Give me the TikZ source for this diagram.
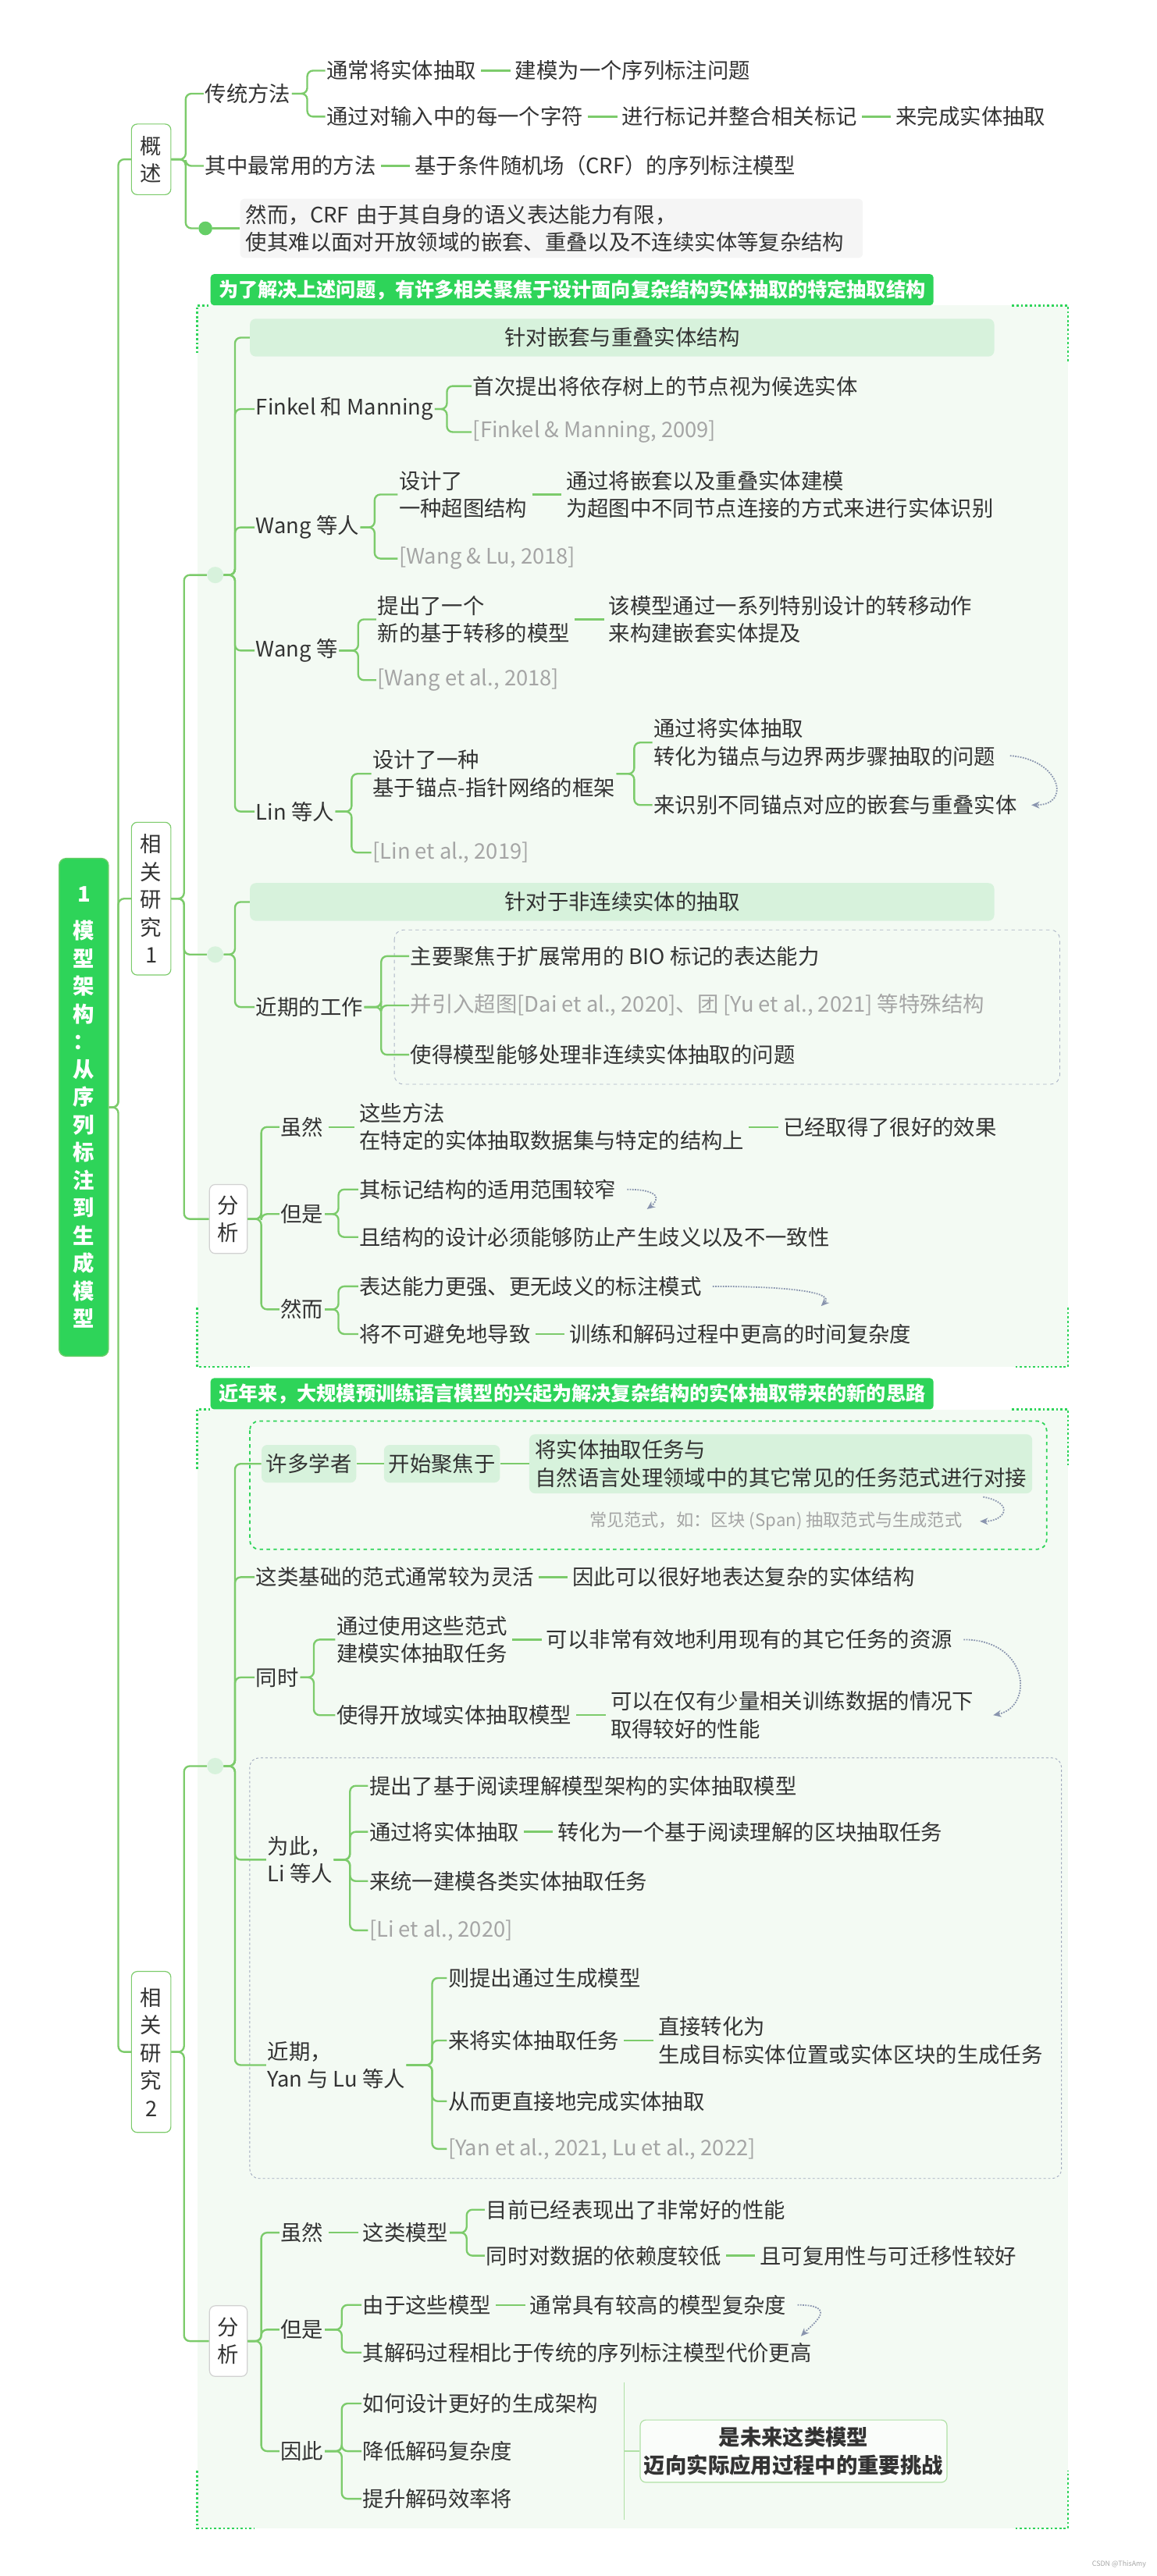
\documentclass[tikz,border=0pt]{standalone}
\usepackage{fontspec}
\setmainfont{Noto Sans CJK SC}
\usetikzlibrary{positioning,calc,arrows.meta}
\definecolor{lg}{HTML}{7CCB6B}
\definecolor{hg}{HTML}{2ED459}
\definecolor{bgc}{HTML}{F3FAF3}
\definecolor{hdc}{HTML}{D7F2DC}
\definecolor{txc}{HTML}{333333}
\definecolor{grc}{HTML}{A5A5A5}
\definecolor{arc}{HTML}{8994AE}
\newcommand\fs{\fontsize{18.5}{24}\selectfont}
\newcommand\br[3]{\draw[conn] (#1.east) -- (#1.east -| #3,0) |- (#2.west);}
\newcommand\ch[3]{\node[tx,right=1.1cm of #1] (#2) {#3}; \draw[lk] (#1.east) -- (#2.west);}
\begin{document}
\begin{tikzpicture}[x=0.05cm,y=-0.05cm,
 tx/.style={anchor=west,inner sep=1pt,text=txc,align=left,font=\fs},
 gx/.style={tx,text=grc},
 conn/.style={draw=lg,line width=1.6pt,rounded corners=5pt},
 lk/.style={draw=lg,line width=1.6pt,shorten <=3pt,shorten >=3pt},
 dotg/.style={draw=hg,line width=1.8pt,dotted},
 darr/.style={draw=arc,line width=1.2pt,densely dotted,-{Stealth[length=7pt,width=6pt]}},
 lv/.style={draw=lg,fill=white,rounded corners=5pt,line width=0.8pt,inner sep=2pt,align=center,text=txc,font=\fs,minimum width=1.2cm},
 hdr/.style={fill=hdc,rounded corners=5pt,text=txc,font=\fs,minimum height=1.15cm,minimum width=22.65cm,anchor=west},
 hd/.style={fill=hg,rounded corners=3pt,text=white,font=\fontsize{17}{20}\selectfont\bfseries,minimum width=22cm,minimum height=0.95cm,anchor=south west},
 ldot/.style={circle,fill=hdc,inner sep=0pt,minimum size=0.5cm},
]
\useasboundingbox (0,0) rectangle (704,1568);
% backgrounds
\fill[bgc] (120,186) rectangle (650,832);
\fill[bgc] (120,858) rectangle (650,1539);
\draw[dotg] (120,215) -- (120,186) -- (128,186);
\draw[dotg] (616,186) -- (650,186) -- (650,221);
\draw[dotg] (120,796) -- (120,832) -- (153,832);
\draw[dotg] (618,832) -- (650,832) -- (650,796);
\draw[dotg] (120,894) -- (120,858) -- (128,858);
\draw[dotg] (616,858) -- (650,858) -- (650,892);
\draw[dotg] (120,1504) -- (120,1539) -- (155,1539);
\draw[dotg] (618,1539) -- (650,1539) -- (650,1504);
\node[hd] (h1) at (128,186) {为了解决上述问题，有许多相关聚焦于设计面向复杂结构实体抽取的特定抽取结构};
\node[hd] (h2) at (128,858) {近年来，大规模预训练语言模型的兴起为解决复杂结构的实体抽取带来的新的思路};
\draw[draw=arc!70,dashed,rounded corners=8pt,line width=0.6pt] (240,566) rectangle (645,660);
\draw[draw=hg,dashed,rounded corners=8pt,line width=1.2pt] (152,865) rectangle (637,943);
\draw[draw=arc!80,dash pattern=on 2pt off 2pt,rounded corners=8pt,line width=0.6pt] (152,1070) rectangle (646,1326);

% root
\node[fill=hg,draw=lg!70!hg,line width=1pt,rounded corners=6pt,minimum width=1.5cm,minimum height=15.15cm,text=white,font=\fontsize{18.5}{24}\selectfont\bfseries,align=center] (root) at (51,674) {1\\[8pt]模\\型\\架\\构\\：\\从\\序\\列\\标\\注\\到\\生\\成\\模\\型};
\node[lv,minimum height=2.15cm] (gs) at (92,97) {概\\述};
\node[lv,minimum height=4.65cm] (xg1) at (92,547) {相\\关\\研\\究\\1};
\node[lv,minimum height=4.9cm] (xg2) at (92,1249) {相\\关\\研\\究\\2};
\draw[conn] (root.east) -- (root.east -| 72,0) |- (gs.west);
\draw[conn] (root.east) -- (root.east -| 72,0) |- (xg1.west);
\draw[conn] (root.east) -- (root.east -| 72,0) |- (xg2.west);

% overview
\node[tx] (ctf) at (124,57) {传统方法};
\node[tx] (t1) at (198,43) {通常将实体抽取};
\ch{t1}{t1b}{建模为一个序列标注问题}
\node[tx] (t2) at (198,71) {通过对输入中的每一个字符};
\ch{t2}{t2b}{进行标记并整合相关标记}
\ch{t2b}{t2c}{来完成实体抽取}
\br{ctf}{t1}{187} \br{ctf}{t2}{187}
\node[tx] (cy) at (124,101) {其中最常用的方法};
\ch{cy}{crf}{基于条件随机场（CRF）的序列标注模型}
\node[circle,fill=lg!70!hg,minimum size=0.42cm,inner sep=0pt] (od) at (125,139) {};
\node[fill=black!4,rounded corners=4pt,anchor=west,text=txc,font=\fs,align=left,inner sep=5pt,text width=18.6cm] (gb) at (146,139) {然而，CRF 由于其自身的语义表达能力有限，\\使其难以面对开放领域的嵌套、重叠以及不连续实体等复杂结构};
\br{gs}{ctf}{113} \br{gs}{cy}{113} \br{gs}{od}{113}
\draw[conn] (od.east) -- (gb.west);

% section 1
\node[ldot] (dot1) at (131,350) {};
\node[ldot] (dot2) at (131,581) {};
\node[lv,draw=black!18,minimum width=1.15cm,minimum height=2.1cm] (an1) at (139,742) {分\\析};
\br{xg1}{dot1}{112} \br{xg1}{dot2}{112} \br{xg1}{an1}{112}

\node[hdr] (hd1) at (152,205.5) {针对嵌套与重叠实体结构};
\node[tx] (fm) at (155,249) {Finkel 和 Manning};
\node[tx] (fm1) at (287,235) {首次提出将依存树上的节点视为候选实体};
\node[gx] (fm2) at (287,263) {[Finkel \& Manning, 2009]};
\br{fm}{fm1}{272} \br{fm}{fm2}{272}
\node[tx] (wr) at (155,321) {Wang 等人};
\node[tx] (wr1) at (242,301) {设计了\\一种超图结构};
\ch{wr1}{wr1b}{通过将嵌套以及重叠实体建模\\为超图中不同节点连接的方式来进行实体识别}
\node[gx] (wr2) at (242,340) {[Wang \& Lu, 2018]};
\br{wr}{wr1}{228} \br{wr}{wr2}{228}
\node[tx] (wd) at (155,396) {Wang 等};
\node[tx] (wd1) at (229,377) {提出了一个\\新的基于转移的模型};
\ch{wd1}{wd1b}{该模型通过一系列特别设计的转移动作\\来构建嵌套实体提及}
\node[gx] (wd2) at (229,414) {[Wang et al., 2018]};
\br{wd}{wd1}{218} \br{wd}{wd2}{218}
\node[tx] (ln) at (155,494) {Lin 等人};
\node[tx] (ln1) at (226,471) {设计了一种\\基于锚点-指针网络的框架};
\node[gx] (ln2) at (226,519) {[Lin et al., 2019]};
\br{ln}{ln1}{214} \br{ln}{ln2}{214}
\node[tx] (ln1a) at (397,452) {通过将实体抽取\\转化为锚点与边界两步骤抽取的问题};
\node[tx] (ln1b) at (397,490) {来识别不同锚点对应的嵌套与重叠实体};
\br{ln1}{ln1a}{386} \br{ln1}{ln1b}{386}
\draw[darr] ([shift={(8,8)}]ln1a.east) .. controls +(30,2) and +(25,0) .. ([shift={(8,0)}]ln1b.east);
\br{dot1}{hd1}{143} \br{dot1}{fm}{143} \br{dot1}{wr}{143} \br{dot1}{wd}{143} \br{dot1}{ln}{143}

\node[hdr] (hd2) at (152,549) {针对于非连续实体的抽取};
\node[tx] (jq) at (155,613) {近期的工作};
\node[tx] (jq1) at (249,582) {主要聚焦于扩展常用的 BIO 标记的表达能力};
\node[gx] (jq2) at (249,612) {并引入超图[Dai et al., 2020]、团 [Yu et al., 2021] 等特殊结构};
\node[tx] (jq3) at (249,642) {使得模型能够处理非连续实体抽取的问题};
\br{jq}{jq1}{232} \br{jq}{jq2}{232} \br{jq}{jq3}{232}
\br{dot2}{hd2}{143} \br{dot2}{jq}{143}

\node[tx] (sr) at (170,686) {虽然};
\node[tx] (sr1) at (218,686) {这些方法\\在特定的实体抽取数据集与特定的结构上};
\ch{sr1}{sr2}{已经取得了很好的效果}
\draw[lk] (sr.east) -- (sr1.west);
\node[tx] (ds) at (170,739) {但是};
\node[tx] (ds1) at (218,724) {其标记结构的适用范围较窄};
\node[tx] (ds2) at (218,753) {且结构的设计必须能够防止产生歧义以及不一致性};
\br{ds}{ds1}{206} \br{ds}{ds2}{206}
\draw[darr] ([shift={(6,0)}]ds1.east) .. controls +(20,0) and +(8,-6) .. ([shift={(18,12)}]ds1.east);
\node[tx] (rr) at (170,797) {然而};
\node[tx] (rr1) at (218,783) {表达能力更强、更无歧义的标注模式};
\node[tx] (rr2) at (218,812) {将不可避免地导致};
\ch{rr2}{rr2b}{训练和解码过程中更高的时间复杂度}
\br{rr}{rr1}{206} \br{rr}{rr2}{206}
\draw[darr] ([shift={(6,0)}]rr1.east) .. controls +(50,0) and +(8,-8) .. ([shift={(72,12)}]rr1.east);
\br{an1}{sr}{159} \br{an1}{ds}{159} \br{an1}{rr}{159}

% section 2
\node[ldot] (dot3) at (131,1075) {};
\node[lv,draw=black!18,minimum width=1.15cm,minimum height=2.15cm] (an2) at (139,1425) {分\\析};
\br{xg2}{dot3}{112} \br{xg2}{an2}{112}

\node[fill=hdc,rounded corners=5pt,text=txc,font=\fs,minimum height=1.15cm,inner sep=4pt] (xz) at (188,891) {许多学者};
\node[fill=hdc,rounded corners=5pt,text=txc,font=\fs,minimum height=1.15cm,inner sep=4pt] (kj) at (269,891) {开始聚焦于};
\node[fill=hdc,rounded corners=5pt,text=txc,font=\fs,anchor=west,align=left,inner sep=5pt] (jr) at (322,891) {将实体抽取任务与\\自然语言处理领域中的其它常见的任务范式进行对接};
\draw[lk,shorten <=0pt,shorten >=0pt] (xz.east) -- (kj.west);
\draw[lk,shorten <=0pt,shorten >=0pt] (kj.east) -- (jr.west);
\node[gx,font=\fontsize{15}{18}\selectfont] (cf) at (358,926) {常见范式，如：区块 (Span) 抽取范式与生成范式};
\draw[darr] ([shift={(-30,2)}]jr.south east) .. controls +(20,4) and +(15,0) .. ([shift={(10,0)}]cf.east);

\node[tx] (zl) at (155,960) {这类基础的范式通常较为灵活};
\ch{zl}{zlb}{因此可以很好地表达复杂的实体结构}
\node[tx] (ts) at (155,1021) {同时};
\node[tx] (ts1) at (204,998) {通过使用这些范式\\建模实体抽取任务};
\ch{ts1}{ts1b}{可以非常有效地利用现有的其它任务的资源}
\node[tx] (ts2) at (204,1044) {使得开放域实体抽取模型};
\ch{ts2}{ts2b}{可以在仅有少量相关训练数据的情况下\\取得较好的性能}
\br{ts}{ts1}{191} \br{ts}{ts2}{191}
\draw[darr] ([shift={(6,0)}]ts1b.east) .. controls +(40,0) and +(25,-5) .. ([shift={(11,0)}]ts2b.east);

\node[tx] (wc) at (162,1132) {为此，\\Li 等人};
\node[tx] (wc1) at (224,1087) {提出了基于阅读理解模型架构的实体抽取模型};
\node[tx] (wc2) at (224,1115) {通过将实体抽取};
\ch{wc2}{wc2b}{转化为一个基于阅读理解的区块抽取任务}
\node[tx] (wc3) at (224,1145) {来统一建模各类实体抽取任务};
\node[gx] (wc4) at (224,1175) {[Li et al., 2020]};
\br{wc}{wc1}{213} \br{wc}{wc2}{213} \br{wc}{wc3}{213} \br{wc}{wc4}{213}

\node[tx] (yl) at (162,1257) {近期，\\Yan 与 Lu 等人};
\node[tx] (yl1) at (272,1204) {则提出通过生成模型};
\node[tx] (yl2) at (272,1242) {来将实体抽取任务};
\ch{yl2}{yl2b}{直接转化为\\生成目标实体位置或实体区块的生成任务}
\node[tx] (yl3) at (272,1279) {从而更直接地完成实体抽取};
\node[gx] (yl4) at (272,1308) {[Yan et al., 2021, Lu et al., 2022]};
\br{yl}{yl1}{263} \br{yl}{yl2}{263} \br{yl}{yl3}{263} \br{yl}{yl4}{263}
\br{dot3}{xz}{143} \br{dot3}{zl}{143} \br{dot3}{ts}{143} \br{dot3}{wc}{143} \br{dot3}{yl}{143}

\node[tx] (s2) at (170,1359) {虽然};
\node[tx] (s2a) at (220,1359) {这类模型};
\draw[lk] (s2.east) -- (s2a.west);
\node[tx] (s2b) at (295,1345) {目前已经表现出了非常好的性能};
\node[tx] (s2c) at (295,1373) {同时对数据的依赖度较低};
\ch{s2c}{s2d}{且可复用性与可迁移性较好}
\br{s2a}{s2b}{284} \br{s2a}{s2c}{284}
\node[tx] (d2) at (170,1418) {但是};
\node[tx] (d2a) at (220,1403) {由于这些模型};
\ch{d2a}{d2b}{通常具有较高的模型复杂度}
\node[tx] (d2c) at (220,1432) {其解码过程相比于传统的序列标注模型代价更高};
\br{d2}{d2a}{208} \br{d2}{d2c}{208}
\draw[darr] ([shift={(6,0)}]d2b.east) .. controls +(25,0) and +(8,-8) .. ([shift={(8,19)}]d2b.east);
\node[tx] (y2) at (170,1492) {因此};
\node[tx] (y2a) at (220,1463) {如何设计更好的生成架构};
\node[tx] (y2b) at (220,1492) {降低解码复杂度};
\node[tx] (y2c) at (220,1521) {提升解码效率将};
\br{y2}{y2a}{208} \br{y2}{y2b}{208} \br{y2}{y2c}{208}
\br{an2}{s2}{159} \br{an2}{d2}{159} \br{an2}{y2}{159}
\coordinate (vt) at (380,1450);
\coordinate (vb) at (380,1534);
\coordinate (vm) at (380,1492);
\draw[draw=lg!60,line width=0.8pt] (vt) -- (vb);
\node[draw=lg!60,fill=bgc!40!white,rounded corners=5pt,line width=0.8pt,minimum width=9.1cm,minimum height=1.9cm,align=center,text=txc,font=\fontsize{18.5}{24}\selectfont\bfseries] (fin) at (483,1492) {是未来这类模型\\迈向实际应用过程中的重要挑战};
\draw[draw=lg!60,line width=0.8pt] (vm) -- (fin.west);
\node[font=\fontsize{6}{7}\selectfont,text=grc,anchor=east] (wm) at (700,1561) {CSDN @ThisAmy};
\end{tikzpicture}
\end{document}
